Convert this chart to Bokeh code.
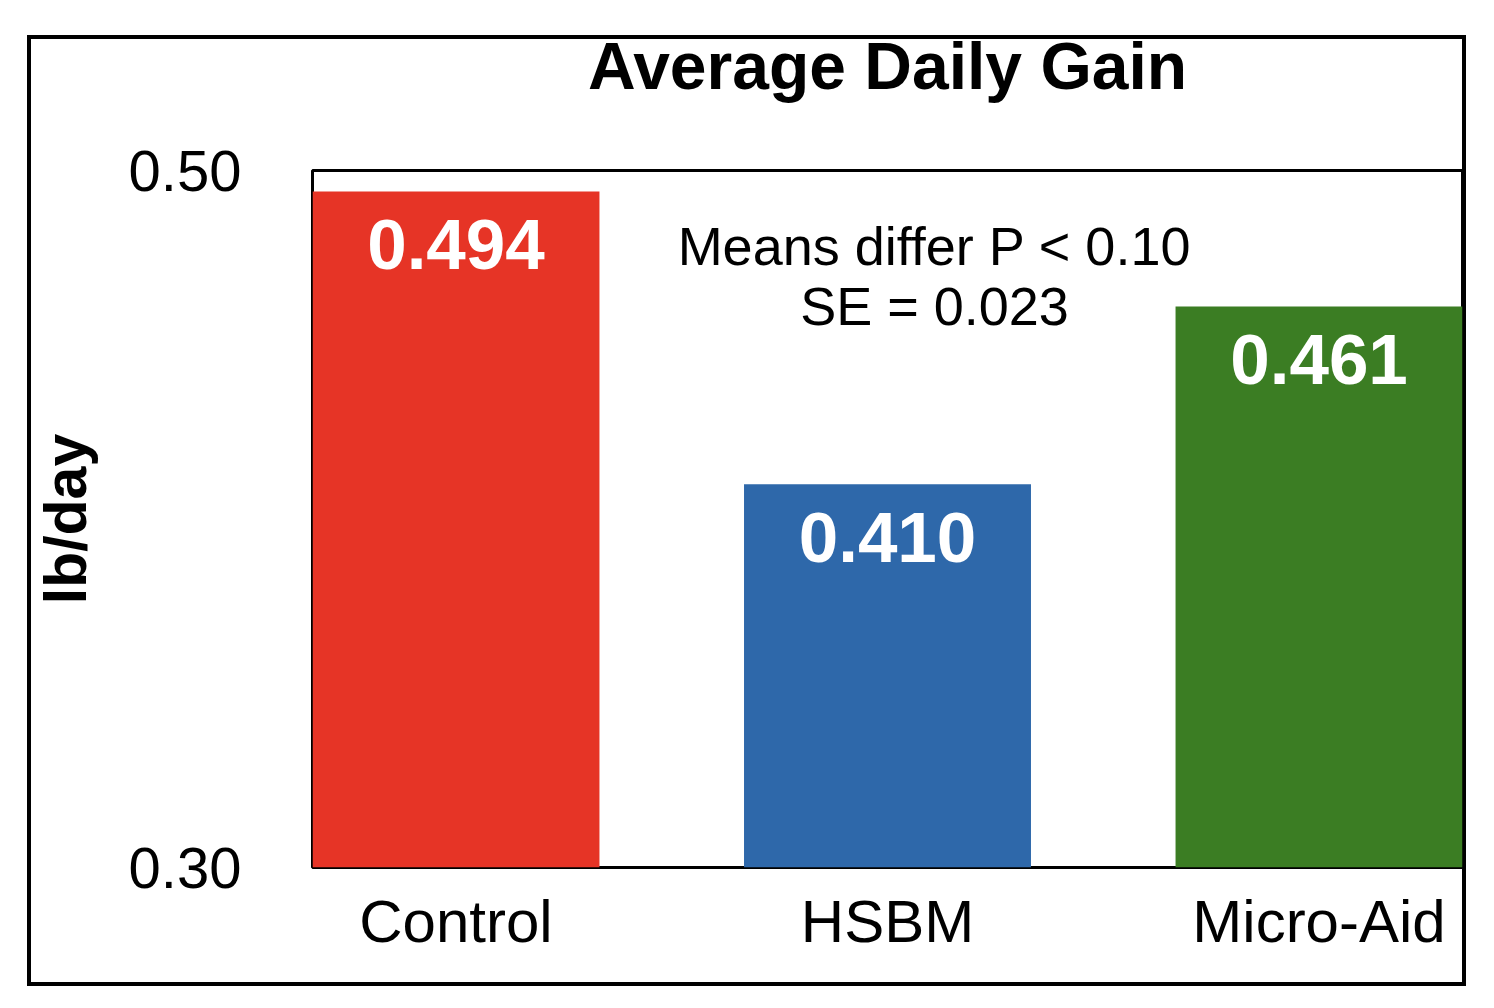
from bokeh.plotting import figure
from bokeh.models import FactorRange, Range1d, FixedTicker, ColumnDataSource, CategoricalAxis
from bokeh.core.properties import value
from bokeh.embed import file_html
from bokeh.resources import INLINE

# ---- data ----
categories = ["Control", "HSBM", "Micro-Aid"]
gains = [0.494, 0.410, 0.461]
gain_labels = ["0.494", "0.410", "0.461"]
bar_colors = ["#E63426", "#2E68AA", "#3B7D23"]
y_ticks = [0.30, 0.50]
y_tick_labels = ["0.30", "0.50"]
note_lines = ["Means differ P < 0.10", "SE = 0.023"]
title_text = "Average Daily Gain"
y_axis_title = "lb/day"

FONT = "Liberation Sans"

p = figure(
    x_range=FactorRange(*categories, range_padding=-0.1675, range_padding_units="absolute"),
    y_range=Range1d(0.30, 0.50),
    width=1478, height=992,
    output_backend="svg", toolbar_location=None,
    min_border_left=312, min_border_right=16,
    min_border_top=170, min_border_bottom=125,
)
# outer frame around the whole chart (drawn as the page background behind a transparent border)
g = "linear-gradient(#000,#000)"
p.styles = {"background": (
    f"{g} 27px 35px / 1439px 4px no-repeat, "
    f"{g} 27px 35px / 4px 951px no-repeat, "
    f"{g} 1462px 35px / 4px 951px no-repeat, "
    f"{g} 27px 982px / 1439px 4px no-repeat, #ffffff")}
p.border_fill_color = None
p.background_fill_color = "white"

p.xgrid.visible = False
p.ygrid.visible = False
p.outline_line_color = "black"
p.outline_line_width = 3

src = ColumnDataSource(dict(cat=categories, top=gains, lab=gain_labels, color=bar_colors))
p.vbar(x="cat", top="top", bottom=0.30, width=0.665, fill_color="color", line_color=None, source=src)

p.text(x="cat", y="top", text="lab", source=src, text_color="white",
       text_font=value(FONT), text_font_size="71px", text_font_style="bold",
       text_align="center", text_baseline="middle", y_offset=53)

# note
note_x = 1.609
note_y = [0.4782, 0.4611]
p.text(x=[note_x, note_x], y=note_y, text=note_lines, text_color="black",
       text_font=value(FONT), text_font_size="54px",
       text_align="center", text_baseline="middle")

# bottom category axis
xa = p.below[0]
xa.axis_line_color = None
xa.major_tick_line_color = None
xa.minor_tick_line_color = None
xa.major_tick_out = 0
xa.major_label_text_font = FONT
xa.major_label_text_font_size = "60px"
xa.major_label_text_color = "black"
xa.major_label_standoff = 20

# left value axis
ya = p.left[0]
ya.ticker = FixedTicker(ticks=y_ticks)
ya.major_label_overrides = {t: l for t, l in zip(y_ticks, y_tick_labels)}
ya.axis_line_color = None
ya.major_tick_line_color = None
ya.minor_tick_line_color = None
ya.major_label_text_font = FONT
ya.major_label_text_font_size = "58px"
ya.major_label_text_color = "black"
ya.major_label_standoff = 65
ya.axis_label = y_axis_title
ya.axis_label_text_font = FONT
ya.axis_label_text_font_size = "59px"
ya.axis_label_text_font_style = "bold"
ya.axis_label_text_color = "black"
ya.axis_label_standoff = 27

# title as the label of an empty axis above the frame
tax = CategoricalAxis(axis_label=title_text)
tax.axis_line_color = None
tax.major_tick_line_color = None
tax.minor_tick_line_color = None
tax.major_tick_out = 0
tax.major_tick_in = 0
tax.major_label_text_font_size = "1px"
tax.major_label_text_color = None
tax.major_label_standoff = 0
tax.axis_label_text_font = FONT
tax.axis_label_text_font_size = "66px"
tax.axis_label_text_font_style = "bold"
tax.axis_label_text_color = "black"
tax.axis_label_standoff = 68
p.add_layout(tax, "above")

open("out.html", "w").write(file_html(p, INLINE))
